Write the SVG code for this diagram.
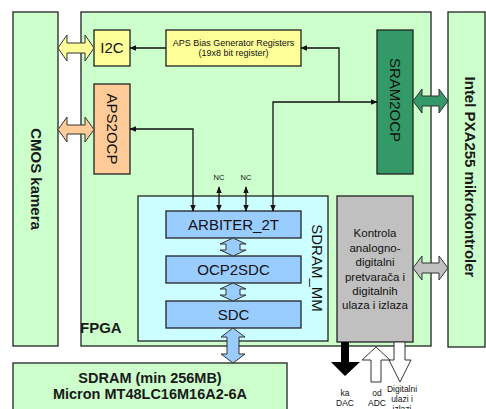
<svg xmlns="http://www.w3.org/2000/svg" width="486" height="409" viewBox="0 0 486 409">
<style>
.box{stroke:#222;stroke-width:1.3}
.g{fill:#ccffcc}
.t{font-family:"Liberation Sans",Arial,sans-serif;fill:#111}
.b{font-weight:bold;font-size:15px;fill:#1a1a1a}
.m{font-size:15px}
.ln{fill:none;stroke:#111;stroke-width:1.3}
.arr{stroke:#333;stroke-width:1}
</style>
<defs>
<marker id="ah" viewBox="0 0 10 10" refX="9" refY="5" markerWidth="7" markerHeight="7" markerUnits="userSpaceOnUse" orient="auto-start-reverse">
<path d="M0,1 L10,5 L0,9 Z" fill="#111"/>
</marker>
</defs>
<rect width="486" height="409" fill="#fff"/>

<g id="cmos">
<rect class="box g" x="13" y="12" width="45" height="334"/>
<text class="t b" transform="translate(31,179) rotate(90)" text-anchor="middle">CMOS kamera</text>
</g>
<g id="fpga">
<rect class="box g" x="81" y="12" width="350" height="334"/>
<text class="t b" x="80" y="333">FPGA</text>
</g>
<g id="intel">
<rect class="box g" x="448" y="12" width="37" height="335"/>
<text class="t b" transform="translate(465,177) rotate(90)" text-anchor="middle">Intel PXA255 mikrokontroler</text>
</g>

<g id="i2c">
<rect class="box" fill="#ffff99" x="94" y="30" width="36" height="36"/>
<text class="t m" x="112" y="53" text-anchor="middle">I2C</text>
</g>
<g id="apsbias">
<rect class="box" fill="#ffff99" x="166" y="30" width="135" height="36"/>
<text class="t" font-size="9" x="233.5" y="46" text-anchor="middle">APS Bias Generator Registers</text>
<text class="t" font-size="9" x="233.5" y="56" text-anchor="middle">(19x8 bit register)</text>
</g>
<g id="aps2ocp">
<rect class="box" fill="#ffcc99" x="94" y="84" width="36" height="90"/>
<text class="t m" transform="translate(107,129) rotate(90)" text-anchor="middle">APS2OCP</text>
</g>
<g id="sram2ocp">
<rect class="box" fill="#339966" x="377" y="30" width="36" height="144"/>
<text class="t m" transform="translate(390,100) rotate(90)" text-anchor="middle">SRAM2OCP</text>
</g>
<g id="sdram_mm">
<rect class="box" fill="#ccffff" x="138" y="196" width="190" height="145"/>
<text class="t m" transform="translate(312,268) rotate(90)" text-anchor="middle">SDRAM_MM</text>
</g>
<g id="arbiter">
<rect class="box" fill="#99ccff" x="166" y="211" width="135" height="27"/>
<text class="t m" x="233.5" y="230" text-anchor="middle">ARBITER_2T</text>
</g>
<g id="ocp2sdc">
<rect class="box" fill="#99ccff" x="166" y="256" width="135" height="27"/>
<text class="t m" x="233.5" y="275" text-anchor="middle">OCP2SDC</text>
</g>
<g id="sdc">
<rect class="box" fill="#99ccff" x="166" y="301" width="135" height="27"/>
<text class="t m" x="233.5" y="320" text-anchor="middle">SDC</text>
</g>
<g id="adc">
<rect class="box" fill="#c0c0c0" x="337" y="196" width="76" height="146"/>
<g class="t" font-size="11.5" text-anchor="middle">
<text x="375" y="237">Kontrola</text>
<text x="375" y="252">analogno-</text>
<text x="375" y="266">digitalni</text>
<text x="375" y="281">pretvarača i</text>
<text x="375" y="295">digitalnih</text>
<text x="375" y="309">ulaza i izlaza</text>
</g>
</g>
<g id="sdram">
<rect class="box g" x="13" y="363" width="274" height="50"/>
<text class="t b" font-size="14.5" x="150" y="383" text-anchor="middle" style="font-size:14.5px">SDRAM (min 256MB)</text>
<text class="t b" font-size="14.5" x="150" y="399" text-anchor="middle" style="font-size:14.5px">Micron MT48LC16M16A2-6A</text>
</g>

<g id="connectors">
<path class="ln" d="M166,48 H130" marker-end="url(#ah)"/>
<path class="ln" d="M130,129 H193 V211" marker-start="url(#ah)" marker-end="url(#ah)"/>
<path class="ln" d="M219,187 V211" marker-start="url(#ah)" marker-end="url(#ah)"/>
<path class="ln" d="M246,187 V211" marker-start="url(#ah)" marker-end="url(#ah)"/>
<path class="ln" d="M273,211 V102 H377" marker-start="url(#ah)" marker-end="url(#ah)"/>
<path class="ln" d="M339,102 V48 H301" marker-end="url(#ah)"/>
<text class="t" font-size="7.5" x="219" y="180" text-anchor="middle">NC</text>
<text class="t" font-size="7.5" x="246" y="180" text-anchor="middle">NC</text>

<path class="arr" fill="#ffff99" d="M58,48 L67,35 L67,43 L85,43 L85,35 L94,48 L85,61 L85,53 L67,53 L67,61 Z"/>
<path class="arr" fill="#ffcc99" d="M58,129.5 L67,117 L67,125 L85,125 L85,117 L94,129.5 L85,142 L85,134 L67,134 L67,142 Z"/>
<path class="arr" fill="#339966" d="M413,101 L422,89 L422,96 L439,96 L439,89 L448,101 L439,113 L439,106 L422,106 L422,113 Z"/>
<path class="arr" fill="#c0c0c0" d="M413,268 L422,256 L422,263 L439,263 L439,256 L448,268 L439,280 L439,273 L422,273 L422,280 Z"/>

<path class="arr" fill="#99ccff" d="M233,238 L246,244 L240,244 L240,250 L246,250 L233,256 L220,250 L226,250 L226,244 L220,244 Z"/>
<path class="arr" fill="#99ccff" d="M233,283 L246,289 L240,289 L240,295 L246,295 L233,301 L220,295 L226,295 L226,289 L220,289 Z"/>
<path class="arr" fill="#99ccff" d="M233,328 L245,337 L239,337 L239,354 L245,354 L233,363 L221,354 L227,354 L227,337 L221,337 Z"/>

<path fill="#000" d="M341,342 H349 V362 H360 L345,376 L331,362 H341 Z"/>
<path class="arr" fill="#fff" d="M371,382 V360 H362 L376,347 L390,360 H381 V382 Z"/>
<path class="arr" fill="#fff" d="M394,342 H405 V360 H411 L400,382 L389,360 H394 Z"/>
<g class="t" font-size="8.5" text-anchor="middle" fill="#222">
<text x="345" y="396">ka</text>
<text x="345" y="406">DAC</text>
<text x="377" y="396">od</text>
<text x="377" y="406">ADC</text>
<text x="402" y="392">Digitalni</text>
<text x="402" y="402">ulazi i</text>
<text x="402" y="412">izlazi</text>
</g>
</g>
</svg>
